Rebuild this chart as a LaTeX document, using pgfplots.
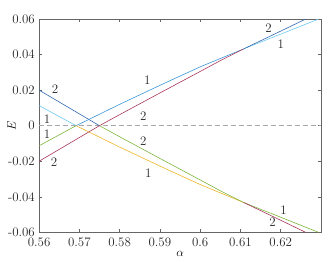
\documentclass[border=0pt]{standalone}
\usepackage{pgfplots}
\pgfplotsset{compat=1.18}
\definecolor{cdblue}{RGB}{50,105,175}
\definecolor{cmblue}{RGB}{60,150,215}
\definecolor{clblue}{RGB}{110,200,240}
\definecolor{cred}{RGB}{168,55,90}
\definecolor{cgreen}{RGB}{125,180,60}
\definecolor{cyellow}{RGB}{237,180,40}
\begin{document}
\begin{tikzpicture}
\path[use as bounding box] (-39bp,-29bp) rectangle (292.5bp,232bp);
\begin{axis}[
  scale only axis,
  width=281.5bp, height=213bp,
  xmin=0.56, xmax=0.63, ymin=-0.06, ymax=0.06,
  scaled y ticks=false, scaled x ticks=false,
  xtick={0.56,0.57,0.58,0.59,0.60,0.61,0.62},
  xticklabels={0.56,0.57,0.58,0.59,0.6,0.61,0.62},
  ytick={-0.06,-0.04,-0.02,0,0.02,0.04,0.06},
  yticklabels={-0.06,-0.04,-0.02,0,0.02,0.04,0.06},
  tick align=inside,
  major tick length=3bp,
  axis line style={gray!80!black, line width=0.5pt},
  tick style={gray!80!black, line width=0.5pt},
  tick label style={font=\fontsize{13}{15}\selectfont, text=black!85, inner sep=0pt},
  xticklabel style={yshift=-5bp},
  yticklabel style={xshift=-4bp},
  xlabel={$\alpha$},
  ylabel={$E$},
  label style={font=\fontsize{13}{15}\selectfont},
  xlabel style={at={(axis description cs:0.5,0)}, anchor=north, yshift=-15bp},
  ylabel style={at={(axis description cs:0,0.5)}, anchor=south, yshift=20bp},
  every axis plot/.append style={line width=0.6pt},
  clip=true,
]
\addplot[gray!70, dashed, dash pattern=on 5bp off 3bp, line width=0.7pt] coordinates {(0.56,0) (0.63,0)};
% upper left
\addplot[clblue] coordinates {(0.56,0.0113) (0.5692,0)};
\addplot[cdblue] coordinates {(0.56,0.0200) (0.5750,0)};
% lower left
\addplot[cgreen] coordinates {(0.56,-0.0113) (0.5692,0)};
\addplot[cred] coordinates {(0.56,-0.0200) (0.5750,0)};
% upper middle
\addplot[cmblue] coordinates {(0.5692,0) (0.58,0.0120) (0.59,0.0227) (0.60,0.0331) (0.6108,0.0432)};
\addplot[cred] coordinates {(0.5750,0) (0.58,0.0062) (0.59,0.0184) (0.60,0.0305) (0.605,0.0366) (0.6108,0.0432)};
% lower middle
\addplot[cyellow] coordinates {(0.5692,0) (0.58,-0.0120) (0.59,-0.0227) (0.60,-0.0331) (0.6108,-0.0432)};
\addplot[cgreen] coordinates {(0.5750,0) (0.58,-0.0062) (0.59,-0.0184) (0.60,-0.0305) (0.605,-0.0366) (0.6108,-0.0432)};
% upper right
\addplot[clblue] coordinates {(0.6108,0.0432) (0.62,0.0515) (0.6294,0.0600)};
\addplot[cdblue] coordinates {(0.6108,0.0432) (0.62,0.0532) (0.6262,0.0600)};
% lower right
\addplot[cgreen] coordinates {(0.6108,-0.0432) (0.62,-0.0515) (0.6294,-0.0600)};
\addplot[cred] coordinates {(0.6108,-0.0432) (0.62,-0.0532) (0.6262,-0.0600)};
% labels
\begin{scope}[every node/.style={font=\fontsize{13}{15}\selectfont, text=black!85}]
\node at (axis cs:0.5640,0.0208) {2};
\node at (axis cs:0.5620,0.0039) {1};
\node at (axis cs:0.5620,-0.0045) {1};
\node at (axis cs:0.5637,-0.0208) {2};
\node at (axis cs:0.5869,0.0254) {1};
\node at (axis cs:0.5859,0.0051) {2};
\node at (axis cs:0.5859,-0.0085) {2};
\node at (axis cs:0.5871,-0.0265) {1};
\node at (axis cs:0.6170,0.0546) {2};
\node at (axis cs:0.6200,0.0456) {1};
\node at (axis cs:0.6207,-0.0473) {1};
\node at (axis cs:0.6180,-0.0541) {2};
\end{scope}
\end{axis}
\end{tikzpicture}
\end{document}
